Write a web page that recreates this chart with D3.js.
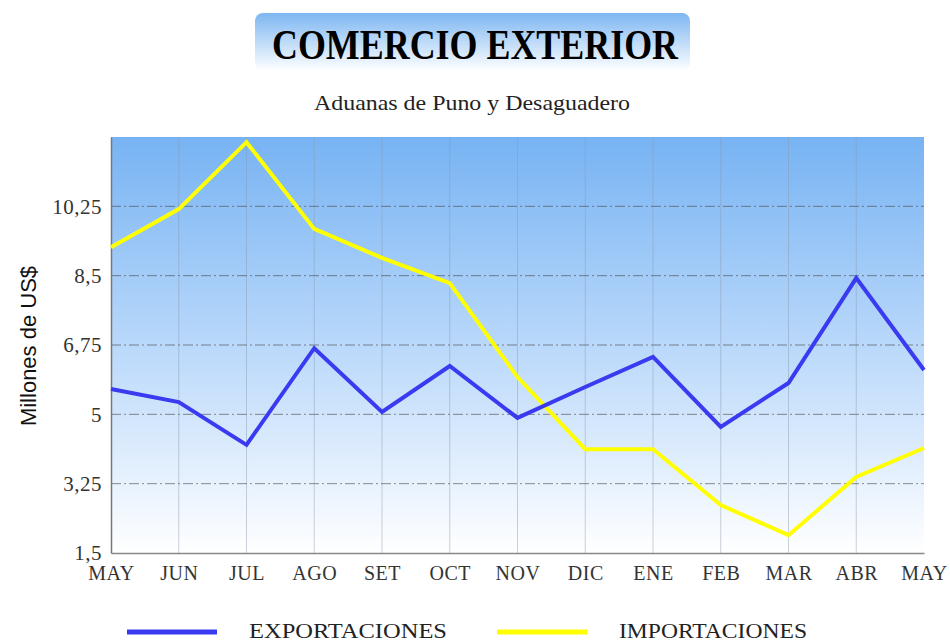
<!DOCTYPE html>
<html><head><meta charset="utf-8">
<script src="https://cdn.jsdelivr.net/npm/d3@7"></script>
<style>body{margin:0;background:#fff}svg{display:block}</style>
</head><body>
<script>
const months = ["MAY","JUN","JUL","AGO","SET","OCT","NOV","DIC","ENE","FEB","MAR","ABR","MAY"];
const exportaciones = [5.64,5.31,4.23,6.67,5.06,6.22,4.91,5.69,6.45,4.68,5.79,8.44,6.12];
const importaciones = [9.22,10.18,11.87,9.68,8.95,8.31,5.94,4.12,4.12,2.71,1.95,3.42,4.15];
const yTicks = [1.5,3.25,5,6.75,8.5,10.25];
const yTickLabels = ["1,5","3,25","5","6,75","8,5","10,25"];

const W=950,H=644;
const m={l:111,r:924,t:137,b:553};
const svg=d3.select("body").append("svg").attr("width",W).attr("height",H);
const defs=svg.append("defs");
const g1=defs.append("linearGradient").attr("id","bg").attr("x1",0).attr("y1",0).attr("x2",0).attr("y2",1);
g1.append("stop").attr("offset","0%").attr("stop-color","#77b3f3");
g1.append("stop").attr("offset","55%").attr("stop-color","#c0dcfb");
g1.append("stop").attr("offset","100%").attr("stop-color","#ffffff");
const g2=defs.append("linearGradient").attr("id","tb").attr("x1",0).attr("y1",0).attr("x2",0).attr("y2",1);
g2.append("stop").attr("offset","0%").attr("stop-color","#7db6f1");
g2.append("stop").attr("offset","100%").attr("stop-color","#ffffff");

// title
svg.append("rect").attr("x",255).attr("y",13).attr("width",435).attr("height",58).attr("rx",8).attr("fill","url(#tb)");
svg.append("text").attr("x",272).attr("y",59)
  .attr("font-family","Liberation Serif, serif").attr("font-weight","bold").attr("font-size",42)
  .attr("textLength",406).attr("lengthAdjust","spacingAndGlyphs").attr("fill","#000").text("COMERCIO EXTERIOR");
svg.append("text").attr("x",314).attr("y",110)
  .attr("font-family","Liberation Serif, serif").attr("font-size",22).attr("fill","#222")
  .attr("textLength",316).attr("lengthAdjust","spacingAndGlyphs")
  .text("Aduanas de Puno y Desaguadero");

const x=d3.scalePoint().domain(d3.range(months.length)).range([m.l,m.r]);
const y=d3.scaleLinear().domain([1.5,12]).range([m.b,m.t]);

svg.append("rect").attr("x",m.l).attr("y",m.t).attr("width",m.r-m.l).attr("height",m.b-m.t).attr("fill","url(#bg)");

// vertical grid
svg.append("g").selectAll("line").data(d3.range(1,months.length-1)).join("line")
  .attr("x1",d=>x(d)).attr("x2",d=>x(d)).attr("y1",m.t).attr("y2",m.b)
  .attr("stroke","#8a9aae").attr("stroke-opacity",0.45).attr("stroke-width",1);
// horizontal grid
svg.append("g").selectAll("line").data(yTicks.slice(1)).join("line")
  .attr("x1",m.l).attr("x2",m.r).attr("y1",d=>y(d)).attr("y2",d=>y(d))
  .attr("stroke","#444").attr("stroke-opacity",0.6).attr("stroke-dasharray","10,3,2,3");

// axes
const yAxis=d3.axisLeft(y).tickValues(yTicks).tickFormat((d,i)=>yTickLabels[i]).tickSize(0).tickPadding(9);
const ya=svg.append("g").attr("transform",`translate(${m.l},0)`).call(yAxis);
ya.select(".domain").attr("stroke","#777").attr("stroke-width",1.5);
ya.selectAll("text").attr("font-family","Liberation Serif, serif").attr("font-size",21).attr("fill","#333").attr("letter-spacing",0.5);
const xAxis=d3.axisBottom(x).tickFormat(i=>months[i]).tickSize(0).tickPadding(13);
const xa=svg.append("g").attr("transform",`translate(0,${m.b})`).call(xAxis);
xa.select(".domain").attr("stroke","#888").attr("stroke-width",1.5);
xa.selectAll("text").attr("font-family","Liberation Serif, serif").attr("font-size",20).attr("fill","#333").attr("letter-spacing",0.5);

svg.append("text").attr("transform","translate(36,346) rotate(-90)").attr("text-anchor","middle")
  .attr("font-family","Liberation Sans, Arial, sans-serif").attr("font-size",22).attr("fill","#111").text("Millones de US$");

const line=d3.line().x((d,i)=>x(i)).y(d=>y(d));
svg.append("path").datum(importaciones).attr("d",line).attr("fill","none").attr("stroke","#ffff00").attr("stroke-width",4).attr("stroke-linejoin","miter");
svg.append("path").datum(exportaciones).attr("d",line).attr("fill","none").attr("stroke","#3a3af0").attr("stroke-width",4).attr("stroke-linejoin","miter");

// legend
const legend=[{name:"EXPORTACIONES",color:"#3a3af0",x:127,len:198},{name:"IMPORTACIONES",color:"#ffff00",x:497,len:188}];
const lg=svg.append("g").selectAll("g").data(legend).join("g");
lg.append("line").attr("x1",d=>d.x).attr("x2",d=>d.x+90).attr("y1",632).attr("y2",632).attr("stroke",d=>d.color).attr("stroke-width",5);
lg.append("text").attr("x",d=>d.x+122).attr("y",638).attr("font-family","Liberation Serif, serif").attr("font-size",20)
  .attr("textLength",d=>d.len).attr("lengthAdjust","spacingAndGlyphs").attr("fill","#222").text(d=>d.name);
</script>
</body></html>
